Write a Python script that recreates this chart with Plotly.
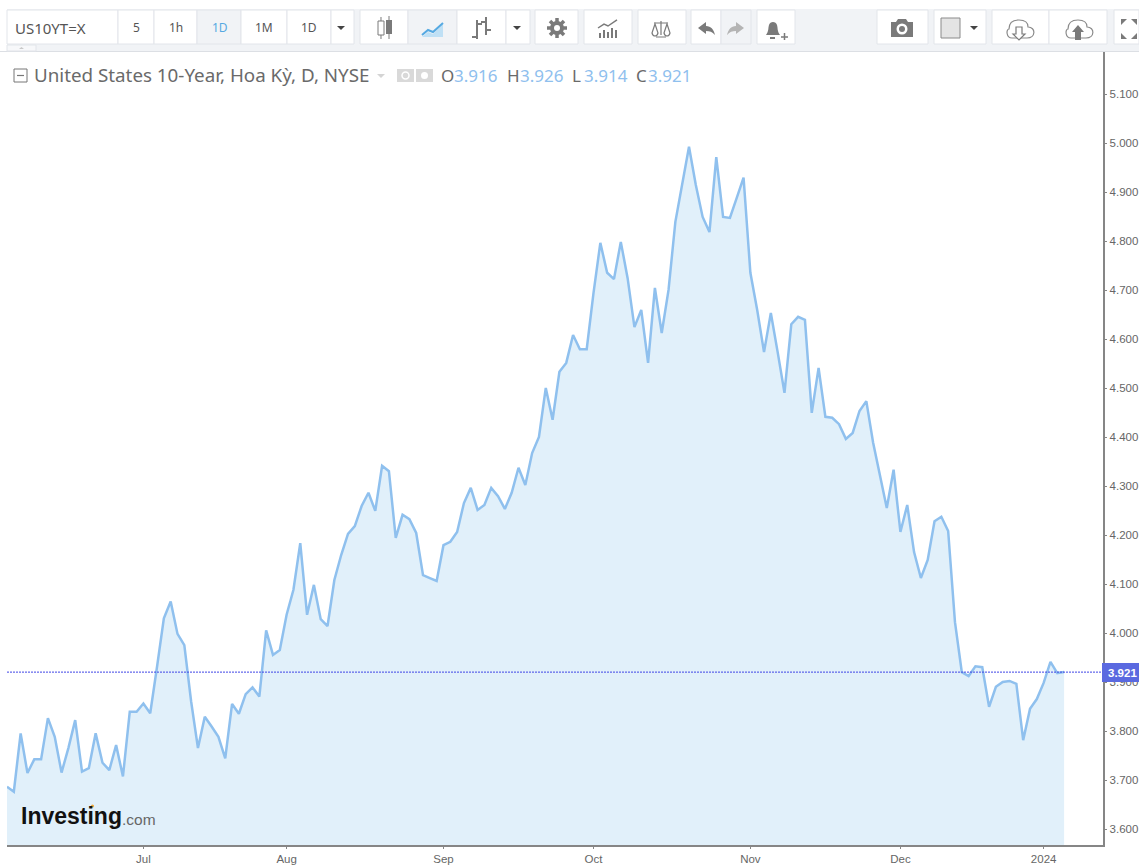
import re
import plotly.graph_objects as go

W, H = 1139, 865

# ---------- data ----------
values = [3.687,3.677,3.796,3.715,3.743,3.743,3.827,3.789,3.716,3.766,3.823,3.718,3.725,3.796,3.736,3.721,
          3.772,3.708,3.840,3.840,3.857,3.837,3.932,4.031,4.065,3.999,3.976,3.861,3.766,3.830,3.810,3.789,
          3.745,3.856,3.836,3.876,3.890,3.871,4.006,3.956,3.966,4.038,4.089,4.184,4.038,4.099,4.029,4.015,
          4.109,4.160,4.203,4.219,4.260,4.287,4.250,4.342,4.331,4.195,4.242,4.233,4.205,4.119,4.113,4.107,
          4.180,4.187,4.207,4.266,4.297,4.252,4.262,4.297,4.280,4.254,4.287,4.338,4.303,4.368,4.401,4.501,
          4.436,4.534,4.552,4.609,4.580,4.580,4.695,4.797,4.736,4.723,4.799,4.725,4.625,4.660,4.552,4.705,
          4.613,4.701,4.840,4.915,4.993,4.915,4.850,4.819,4.972,4.850,4.848,4.889,4.930,4.736,4.660,4.574,
          4.654,4.574,4.491,4.631,4.646,4.640,4.450,4.542,4.442,4.440,4.427,4.397,4.409,4.454,4.474,4.389,
          4.323,4.256,4.334,4.207,4.262,4.166,4.113,4.150,4.229,4.238,4.209,4.023,3.921,3.913,3.933,3.931,
          3.850,3.891,3.901,3.903,3.897,3.782,3.846,3.866,3.899,3.942,3.919,3.921]
session = list(range(len(values)))
month_sessions = [20, 41, 64, 86, 109, 131, 152]
month_labels = ["Jul", "Aug", "Sep", "Oct", "Nov", "Dec", "2024"]
price_ticks = [3.6, 3.7, 3.8, 3.9, 4.0, 4.1, 4.2, 4.3, 4.4, 4.5, 4.6, 4.7, 4.8, 4.9, 5.0, 5.1]
last_close = 3.921
ohlc_labels = ["O", "H", "L", "C"]
ohlc_values = ["3.916", "3.926", "3.914", "3.921"]

# ---------- style ----------
LINE = "#8fc0ee"
FILL = "#e1f0fa"
AXIS = "#868686"
TXT = "#666666"
STRIP = "#f1f3f6"
BORDER = "#e2e5ea"
ICON = "#7a7a7a"
FONT = "Liberation Sans"
UI = "Noto Sans"
LEFT, RIGHT, TOP, BOTTOM = 7, 1102.5, 52, 845
STEP = 6.82


def px(x):
    return x / W


def py(y):
    return 1 - y / H


def rect(x0, y0, x1, y1, fill=None, line=None, lw=1):
    return dict(type="rect", xref="paper", yref="paper", x0=px(x0), x1=px(x1), y0=py(y0), y1=py(y1),
                fillcolor=fill or "rgba(0,0,0,0)", line=dict(color=line or "rgba(0,0,0,0)", width=lw if line else 0),
                layer="above")


def circle(cx, cy, r, fill=None, line=None, lw=1):
    s = rect(cx - r, cy - r, cx + r, cy + r, fill, line, lw)
    s["type"] = "circle"
    return s


def path(d, fill=None, line=None, lw=1):
    parts = re.findall(r"[MLCQZ]|-?\d+\.?\d*", d)
    out, even = [], True
    for p in parts:
        if p in "MLCQZ":
            out.append(p)
        else:
            out.append(f"{px(float(p)):.5f}" if even else f"{py(float(p)):.5f}")
            even = not even
    return dict(type="path", xref="paper", yref="paper", path=" ".join(out),
                fillcolor=fill or "rgba(0,0,0,0)", line=dict(color=line or "rgba(0,0,0,0)", width=lw if line else 0),
                layer="above")


def text(x, y, s, size=12, color=TXT, anchor="left", family=UI):
    return dict(x=px(x), y=py(y), xref="paper", yref="paper", text=s, showarrow=False, xanchor=anchor,
                yanchor="middle", font=dict(size=size, color=color, family=family), borderpad=0, borderwidth=0)


shapes, notes = [], []

# toolbar strip
shapes.append(rect(7, 9, W, 51, STRIP))
shapes.append(rect(0, 51, W, 52, "#dcdfe4"))
shapes.append(rect(7, 45, 36, 51, "#f7f8fa", BORDER))
shapes.append(path("M19 49 L24 49 L21.5 47 Z", "#c9c9c9"))

# buttons: x0, x1, active
buttons = [(7, 118, 0), (118, 154, 0), (154, 197, 0), (197, 241, 1), (241, 287, 0), (287, 331, 0), (331, 354, 0),
           (360, 408, 0), (408, 457, 1), (457, 506, 0), (506, 530, 0), (535, 578, 0), (584, 632, 0), (638, 686, 0),
           (691, 721, 0), (721, 751, 1), (757, 795, 0), (877, 928, 0), (934, 986, 0), (992, 1049, 0), (1049, 1107, 0),
           (1114, W, 0)]
for a, b, active in buttons:
    shapes.append(rect(a, 10, b, 44, STRIP if active else "#ffffff", BORDER))

notes.append(text(15, 28, "US10YT=X", 15, "#555555"))
for cx, lab, col in [(136, "5", "#555555"), (176, "1h", "#555555"), (220, "1D", "#55a9e2"),
                     (264, "1M", "#555555"), (309, "1D", "#555555")]:
    notes.append(text(cx, 27, lab, 12, col, "center"))

# dropdown triangles
for cx in (341, 517):
    shapes.append(path(f"M{cx-4} 26 L{cx+4} 26 L{cx} 30 Z", "#444444"))
shapes.append(path("M970 26 L978 26 L974 30 Z", "#444444"))

# candle icon
shapes += [path("M381 17 L381 39", None, ICON), rect(378, 21, 384, 35, "#ffffff", ICON),
           path("M389 16 L389 39", None, ICON), rect(386, 20, 392, 34, ICON)]
# area icon
shapes += [path("M422 37 L428 32 L433 34 L443 24 L443 37 Z", "#bfe0f5"),
           path("M422 35 L428 30 L433 32 L443 23", None, "#55a9e2", 2)]
# bars icon
shapes += [path("M477 20 L477 39 M472 37 L477 37 M477 24 L482 24", None, ICON, 2),
           path("M486 17 L486 35 M486 30 L491 30 M481 22 L486 22", None, ICON, 2)]
# gear
shapes.append(circle(557, 28, 7, ICON))
for d in ["M557 18 L557 38", "M547 28 L567 28", "M550 21 L564 35", "M564 21 L550 35"]:
    shapes.append(path(d, None, ICON, 3.5))
shapes.append(circle(557, 28, 3, "#ffffff"))
# indicators
for x, t in [(600, 33), (604, 30), (608, 32), (612, 28), (616, 30)]:
    shapes.append(rect(x - 1, t, x + 1, 38, ICON))
shapes.append(path("M598 28 L604 24 L608 26 L617 20", None, ICON, 1.5))
# scales
shapes += [path("M661 21 L661 35 M654 23 L668 23 M656 37 L666 37", None, ICON, 1.2),
           path("M652 33 L655 24 L658 33 C657 37 653 37 652 33 Z", None, ICON, 1.2),
           path("M664 33 L667 24 L670 33 C669 37 665 37 664 33 Z", None, ICON, 1.2)]
# undo / redo
shapes.append(path("M698 28 L706 22 L706 26 C711 26 714 30 715 35 C712 32 710 31 706 31 L706 34 Z", ICON))
shapes.append(path("M744 28 L736 22 L736 26 C731 26 728 30 727 35 C730 32 732 31 736 31 L736 34 Z", "#b4b4b4"))
# bell
shapes.append(path("M766 35 C769 31 768 28 769 25 C770 21 776 21 777 25 C778 28 777 31 780 35 Z", ICON))
shapes += [path("M770 38 L775 38", None, ICON, 2), path("M781 37 L788 37 M784.5 33 L784.5 40", None, ICON, 1.5)]
# camera
shapes += [path("M891 22 L896 22 L898 19 L906 19 L908 22 L913 22 L913 37 L891 37 Z", ICON),
           circle(902, 29, 5.5, "#ffffff"), circle(902, 29, 3, ICON)]
# colour box
shapes.append(rect(941, 18, 960, 38, "#e4e4e4", "#8a8a8a"))
# clouds
cloud = ("M{a} 38 C{b} 38 {b} 29 {c} 29 C{c} 23 {d} 20 {e} 20 C{f} 20 {g} 23 {g} 27 "
         "C{h} 27 {i} 38 {j} 38 Z")
for off in (0, 59):
    shapes.append(path(cloud.format(a=1012 + off, b=1006 + off, c=1009 + off, d=1013 + off, e=1019 + off,
                                    f=1025 + off, g=1028 + off, h=1036 + off, i=1036 + off, j=1027 + off),
                       "#ffffff", "#8a8a8a", 1.2))
shapes.append(path("M1016 27 L1022 27 L1022 34 L1025 34 L1019 40 L1013 34 L1016 34 Z", "#ffffff", ICON, 1.2))
shapes.append(path("M1078 25 L1084 32 L1081 32 L1081 40 L1075 40 L1075 32 L1072 32 Z", ICON))
# fullscreen
for d in ["M1121 19 L1127 19 L1121 25 Z", "M1137 19 L1131 19 L1137 25 Z",
          "M1121 39 L1127 39 L1121 33 Z", "M1137 39 L1131 39 L1137 33 Z"]:
    shapes.append(path(d, ICON))

# legend header
shapes.append(rect(14, 69, 27, 82, "#ffffff", "#777777"))
shapes.append(path("M17 75.5 L24 75.5", None, "#777777", 1.2))
notes.append(text(34, 75, "United States 10-Year, Hoa Kỳ, D, NYSE", 18.8, "#6a6a6a"))
shapes.append(path("M377 74 L385 74 L381 78 Z", "#d4d4d4"))
for x in (397, 416):
    shapes.append(rect(x, 69, x + 17, 82, "#d9d9d9"))
shapes += [circle(405.5, 75.5, 3.5, None, "#ffffff", 1.5), circle(424.5, 75.5, 3.5, "#ffffff")]
for lx, vx, lab, val in zip((441, 507, 572, 636), (454, 520, 584, 648), ohlc_labels, ohlc_values):
    notes.append(text(lx, 75, lab, 17, "#6a6a6a"))
    notes.append(text(vx, 75, val, 17, "#8fc0ee"))

# investing.com logo
notes.append(text(21, 816, "<b>Investing</b>", 23, "#111111", family="Liberation Sans"))
notes.append(text(122, 819, ".com", 15.5, "#666666", family="Liberation Sans"))
shapes.append(circle(92.5, 806, 1.6, "#f4a63a"))

# last price tag
shapes.append(rect(1102, 663, W, 682, "#5a69e0"))
notes.append(text(1108, 672.5, "<b>3.921</b>", 11.5, "#ffffff", family=FONT))

fig = go.Figure()
fig.add_trace(go.Scatter(x=session, y=values, mode="lines", fill="tozeroy", fillcolor=FILL,
                         line=dict(color=LINE, width=2.5), hoverinfo="skip", showlegend=False))
fig.add_hline(y=last_close, line=dict(color="#3f45e6", width=1, dash="2px,1px"))

y_low = 4.0 - (BOTTOM - 633.4) / 490
y_high = 4.0 + (633.4 - TOP) / 490
x_high = (RIGHT - LEFT) / STEP

fig.update_layout(
    width=W, height=H, autosize=False,
    margin=dict(l=0, r=0, t=0, b=0),
    paper_bgcolor="#ffffff", plot_bgcolor="#ffffff",
    shapes=list(fig.layout.shapes) + shapes,
    annotations=notes,
    showlegend=False,
    xaxis=dict(domain=[px(LEFT), px(RIGHT)], range=[0, x_high], tickmode="array", tickvals=month_sessions,
               ticktext=month_labels, showgrid=False, zeroline=False, showline=True, linecolor=AXIS, linewidth=1.5,
               ticks="outside", ticklen=2, tickcolor=AXIS, tickfont=dict(size=11.5, color=TXT, family=FONT)),
    yaxis=dict(domain=[py(BOTTOM), py(TOP)], range=[y_low, y_high], side="right", tickmode="array",
               tickvals=price_ticks, ticktext=[f"{t:.3f}" for t in price_ticks], showgrid=False, zeroline=False,
               anchor="x", showline=True, linecolor=AXIS, linewidth=1.5, ticks="outside", ticklen=3, tickcolor=AXIS,
               tickfont=dict(size=11.5, color=TXT, family=FONT)),
)

fig.write_html("out.html", config=dict(displayModeBar=False),
               post_script="document.documentElement.style.cssText='margin:0;padding:0;overflow:hidden;height:865px';"
                           "document.body.style.cssText='margin:0;padding:0;overflow:hidden;height:865px';"
                           "var g=document.getElementsByClassName('plotly-graph-div')[0];"
                           "g.style.position='fixed';g.style.left='0';g.style.top='0';")
